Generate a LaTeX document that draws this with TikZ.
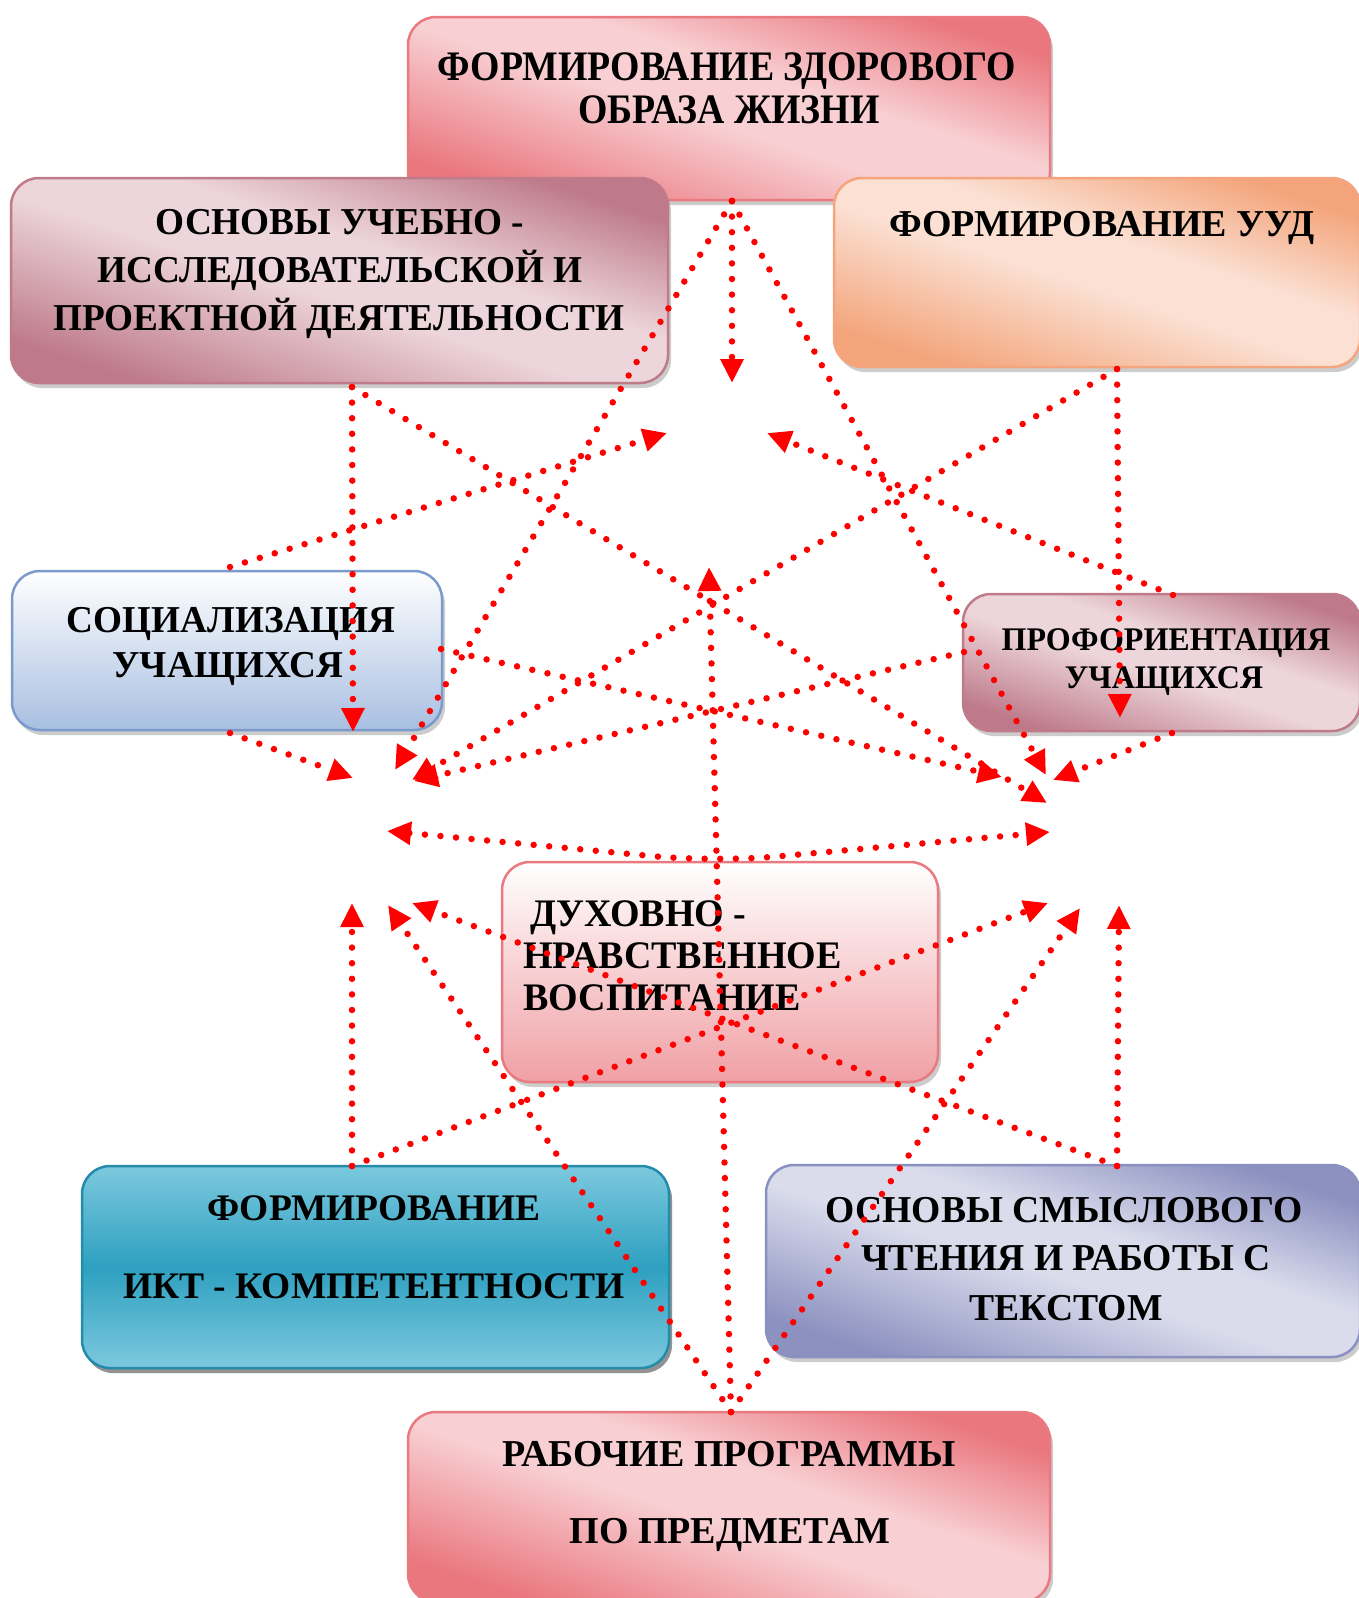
\documentclass[tikz,border=0pt]{standalone}
\usepackage{fontspec}
\setmainfont{Liberation Serif}
\usetikzlibrary{arrows.meta,shadows}

\definecolor{arrowred}{RGB}{255,0,0}
\definecolor{pinkD}{RGB}{234,118,126}
\definecolor{pinkL}{RGB}{248,208,211}
\definecolor{pinkB}{RGB}{232,122,128}
\definecolor{mauveD}{RGB}{190,122,138}
\definecolor{mauveL}{RGB}{237,214,219}
\definecolor{mauveB}{RGB}{192,123,138}
\definecolor{peachD}{RGB}{243,164,122}
\definecolor{peachL}{RGB}{251,224,211}
\definecolor{peachB}{RGB}{244,165,126}
\definecolor{blueB}{RGB}{122,154,204}
\definecolor{blueBot}{RGB}{168,191,225}
\definecolor{duhBot}{RGB}{240,160,165}
\definecolor{tealL}{RGB}{124,201,222}
\definecolor{tealD}{RGB}{46,160,192}
\definecolor{tealB}{RGB}{36,140,170}
\definecolor{lavD}{RGB}{140,145,192}
\definecolor{lavL}{RGB}{218,220,236}
\definecolor{lavB}{RGB}{138,144,192}

\pgfdeclarehorizontalshading{pinkdiag}{100bp}{color(0bp)=(pinkD); color(25bp)=(pinkD); color(47bp)=(pinkL); color(57bp)=(pinkL); color(75bp)=(pinkD); color(100bp)=(pinkD)}
\pgfdeclarehorizontalshading{mauvediag}{100bp}{color(0bp)=(mauveD); color(25bp)=(mauveD); color(47bp)=(mauveL); color(57bp)=(mauveL); color(75bp)=(mauveD); color(100bp)=(mauveD)}
\pgfdeclarehorizontalshading{peachdiag}{100bp}{color(0bp)=(peachD); color(25bp)=(peachD); color(47bp)=(peachL); color(57bp)=(peachL); color(75bp)=(peachD); color(100bp)=(peachD)}
\pgfdeclarehorizontalshading{lavdiag}{100bp}{color(0bp)=(lavD); color(25bp)=(lavD); color(47bp)=(lavL); color(57bp)=(lavL); color(75bp)=(lavD); color(100bp)=(lavD)}

\tikzset{
  box/.style={rectangle, rounded corners=28pt, line width=2.5pt, inner sep=0pt,
    drop shadow={shadow xshift=3pt, shadow yshift=-5pt, fill=black!40}},
  diagfill/.style={shading=#1, shading angle=72},
  lbl/.style={anchor=base, inner sep=0pt, font=\bfseries\fontsize{#1pt}{#1pt}\selectfont},
  lblw/.style={lbl=#1, anchor=base west},
  dotline/.style={draw=arrowred, line width=6.5pt, line cap=round, dash pattern=on 0pt off 15.6pt},
  arr/.style={dotline, -{Triangle[length=24pt,width=22pt]}},
  arrboth/.style={dotline, {Triangle[length=24pt,width=22pt]}-{Triangle[length=24pt,width=22pt]}},
}

\begin{document}
\begin{tikzpicture}[x=1pt,y=-1pt]
\useasboundingbox (0,0) rectangle (1359,1598);

% ---------- boxes ----------
\node[box, draw=pinkB, diagfill=pinkdiag, minimum width=642pt, minimum height=183pt] (zoj) at (729,108.5) {};
\node[box, draw=mauveB, diagfill=mauvediag, minimum width=657pt, minimum height=205pt] (uip) at (339.5,280.5) {};
\node[box, draw=peachB, diagfill=peachdiag, minimum width=526pt, minimum height=189pt] (uud) at (1097,272.5) {};
\node[box, draw=blueB, top color=white, bottom color=blueBot, minimum width=430pt, minimum height=159pt] (soc) at (227,650.5) {};
\node[box, draw=mauveB, diagfill=mauvediag, minimum width=397pt, minimum height=137pt] (prof) at (1161.5,662.5) {};
\node[box, draw=pinkB, top color=white, bottom color=duhBot, minimum width=436pt, minimum height=220pt] (duh) at (720,972) {};
\node[box, draw=tealB, top color=tealL, bottom color=tealL, middle color=tealD, minimum width=587pt, minimum height=202pt,
      drop shadow={shadow xshift=3pt, shadow yshift=-5pt, fill=black!65}] (ikt) at (375.5,1267) {};
\node[box, draw=lavB, diagfill=lavdiag, minimum width=594pt, minimum height=192pt] (smc) at (1063,1261) {};
\node[box, draw=pinkB, diagfill=pinkdiag, minimum width=642pt, minimum height=190pt] (rab) at (729,1507) {};

% ---------- texts ----------
\node[lbl=42, xscale=0.9] (zoj1) at (727,80) {ФОРМИРОВАНИЕ ЗДОРОВОГО};
\node[lbl=42, xscale=0.9] (zoj2) at (729,123) {ОБРАЗА ЖИЗНИ};
\node[lbl=38, xscale=0.98] (uip1) at (340,234) {ОСНОВЫ УЧЕБНО -};
\node[lbl=38, xscale=0.98] (uip2) at (340,282) {ИССЛЕДОВАТЕЛЬСКОЙ И};
\node[lbl=38, xscale=0.98] (uip3) at (339,330) {ПРОЕКТНОЙ ДЕЯТЕЛЬНОСТИ};
\node[lbl=38] (uud1) at (1102,236) {ФОРМИРОВАНИЕ УУД};
\node[lbl=38, xscale=0.98] (soc1) at (231,632) {СОЦИАЛИЗАЦИЯ};
\node[lbl=38, xscale=0.98] (soc2) at (228,677) {УЧАЩИХСЯ};
\node[lbl=33, xscale=0.97] (prof1) at (1166,650) {ПРОФОРИЕНТАЦИЯ};
\node[lbl=33, xscale=0.97] (prof2) at (1164,688) {УЧАЩИХСЯ};
\node[lblw=39, xscale=0.975] (duh1) at (530,926) {ДУХОВНО -};
\node[lblw=39, xscale=0.975] (duh2) at (523,968) {НРАВСТВЕННОЕ};
\node[lblw=39, xscale=0.975] (duh3) at (523,1010) {ВОСПИТАНИЕ};
\node[lbl=37.5] (ikt1) at (374,1220) {ФОРМИРОВАНИЕ};
\node[lbl=37.5] (ikt2) at (374,1298) {ИКТ - КОМПЕТЕНТНОСТИ};
\node[lbl=38, xscale=0.99] (smc1) at (1064,1222) {ОСНОВЫ СМЫСЛОВОГО};
\node[lbl=38, xscale=0.99] (smc2) at (1066,1270) {ЧТЕНИЯ И РАБОТЫ С};
\node[lbl=38, xscale=0.99] (smc3) at (1066,1320) {ТЕКСТОМ};
\node[lbl=38] (rab1) at (729,1466) {РАБОЧИЕ ПРОГРАММЫ};
\node[lbl=38] (rab2) at (730,1543) {ПО ПРЕДМЕТАМ};

% ---------- connector end points ----------
\coordinate (hT) at (732,201);
\coordinate (tT1) at (732,383);
\coordinate (tT2) at (395,770);
\coordinate (tT3) at (1046,775);
\coordinate (hLT) at (352,387);
\coordinate (tLT1) at (353,732);
\coordinate (tLT2) at (1047,803);
\coordinate (hU) at (1117,369);
\coordinate (tU1) at (1120,718);
\coordinate (tU2) at (412,780);
\coordinate (hSt) at (230,567);
\coordinate (tS1) at (667,433);
\coordinate (hSb) at (230,733);
\coordinate (tS2) at (353,778);
\coordinate (hSr) at (441,649);
\coordinate (tS3) at (1002,777);
\coordinate (hPb) at (1172,733);
\coordinate (tP1) at (1053,780);
\coordinate (hPt) at (1173,595);
\coordinate (tP2) at (767,433);
\coordinate (hPl) at (964,652);
\coordinate (tP3) at (414,781);
\coordinate (mL) at (387,831);
\coordinate (mM) at (715,862);
\coordinate (mR) at (1050,832);
\coordinate (hI) at (352,1166);
\coordinate (tI1) at (352,903);
\coordinate (tI2) at (1048,903);
\coordinate (hR) at (731,1412);
\coordinate (tR1) at (388,905);
\coordinate (tR2) at (1080,908);
\coordinate (tR3) at (709,567);
\coordinate (hM) at (1117,1166);
\coordinate (tM1) at (412,903);
\coordinate (tM2) at (1119,905);

% ---------- connectors ----------
\draw[arr] (hT) -- (tT1);
\draw[arr] (hT) -- (tT2);
\draw[arr] (hT) -- (tT3);
\draw[arr] (hLT) -- (tLT1);
\draw[arr] (hLT) -- (tLT2);
\draw[arr] (hU) -- (tU1);
\draw[arr] (hU) -- (tU2);
\draw[arr] (hSt) -- (tS1);
\draw[arr] (hSb) -- (tS2);
\draw[arr] (hSr) -- (tS3);
\draw[arr] (hPb) -- (tP1);
\draw[arr] (hPt) -- (tP2);
\draw[arr] (hPl) -- (tP3);
\draw[arrboth, rounded corners=60pt] (mL) -- (mM) -- (mR);
\draw[arr] (hI) -- (tI1);
\draw[arr] (hI) -- (tI2);
\draw[arr] (hR) -- (tR1);
\draw[arr] (hR) -- (tR2);
\draw[arr] (hR) -- (tR3);
\draw[arr] (hM) -- (tM1);
\draw[arr] (hM) -- (tM2);
\end{tikzpicture}
\end{document}
